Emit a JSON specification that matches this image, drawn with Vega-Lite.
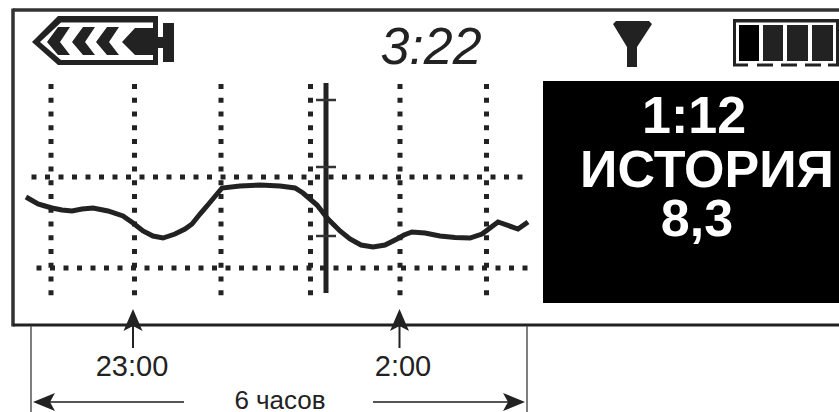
{"$schema":"https://vega.github.io/schema/vega-lite/v6.json","width":839,"height":412,"padding":0,"autosize":"none","background":"white","config":{"view":{"stroke":null},"axis":{"domain":false,"grid":false,"ticks":false,"labels":false,"title":null}},
"layer":[
{"data":{"values":[
{"x":543,"x2":839,"y":81,"y2":303,"c":"#000"},
{"x":733,"x2":839,"y":19,"y2":64,"c":"#222"},
{"x":736,"x2":836,"y":22.5,"y2":64.5,"c":"#fff"},
{"x":733,"x2":748,"y":63.5,"y2":66.5,"c":"#222"},
{"x":757,"x2":773,"y":63.5,"y2":66.5,"c":"#222"},
{"x":781,"x2":797,"y":63.5,"y2":66.5,"c":"#222"},
{"x":805,"x2":821,"y":63.5,"y2":66.5,"c":"#222"},
{"x":828,"x2":839,"y":63.5,"y2":66.5,"c":"#222"},
{"x":739,"x2":759,"y":25,"y2":61,"c":"#000"},
{"x":763,"x2":783,"y":25,"y2":61,"c":"#222"},
{"x":787,"x2":808,"y":25,"y2":61,"c":"#222"},
{"x":812,"x2":833,"y":25,"y2":61,"c":"#222"}
]},"mark":{"type":"rect"},"encoding":{"x":{"field":"x","type":"quantitative","scale":{"domain":[0,839]},"axis":null},"x2":{"field":"x2"},"y":{"field":"y","type":"quantitative","scale":{"domain":[412,0]},"axis":null},"y2":{"field":"y2"},"fill":{"field":"c","type":"nominal","scale":null}}},
{"data":{"values":[
{"x":51,"x2":51,"y":84,"y2":297},{"x":134.5,"x2":134.5,"y":84,"y2":297},{"x":221,"x2":221,"y":84,"y2":297},{"x":310.5,"x2":310.5,"y":84,"y2":297},{"x":400,"x2":400,"y":84,"y2":297},{"x":486.5,"x2":486.5,"y":84,"y2":297}
]},"mark":{"type":"rule","strokeWidth":5,"strokeDash":[5,8.75],"color":"#222"},"encoding":{"x":{"field":"x","type":"quantitative","scale":{"domain":[0,839]},"axis":null},"x2":{"field":"x2"},"y":{"field":"y","type":"quantitative","scale":{"domain":[412,0]},"axis":null},"y2":{"field":"y2"}}},
{"data":{"values":[
{"x":31.5,"x2":524,"y":177,"y2":177},{"x":36.5,"x2":529,"y":268,"y2":268}
]},"mark":{"type":"rule","strokeWidth":5,"strokeDash":[5,8.5],"color":"#222"},"encoding":{"x":{"field":"x","type":"quantitative","scale":{"domain":[0,839]},"axis":null},"x2":{"field":"x2"},"y":{"field":"y","type":"quantitative","scale":{"domain":[412,0]},"axis":null},"y2":{"field":"y2"}}},
{"data":{"values":[
{"x":13,"x2":839,"y":10,"y2":10,"w":3.5,"c":"#333"},
{"x":13,"x2":13,"y":8.5,"y2":326.5,"w":3.5,"c":"#333"},
{"x":13,"x2":839,"y":325,"y2":325,"w":3,"c":"#222"},
{"x":326,"x2":326,"y":83,"y2":293,"w":5,"c":"#222"},
{"x":316,"x2":336,"y":100,"y2":100,"w":2.5,"c":"#333"},
{"x":316,"x2":336,"y":167,"y2":167,"w":2.5,"c":"#333"},
{"x":316,"x2":336,"y":236,"y2":236,"w":2.5,"c":"#333"},
{"x":31,"x2":31,"y":326,"y2":412,"w":1.5,"c":"#555"},
{"x":527,"x2":527,"y":326,"y2":412,"w":1.5,"c":"#555"},
{"x":40,"x2":184,"y":402,"y2":402,"w":2,"c":"#555"},
{"x":373,"x2":515,"y":402,"y2":402,"w":2,"c":"#555"},
{"x":133,"x2":133,"y":326,"y2":348,"w":2,"c":"#222"},
{"x":399.5,"x2":399.5,"y":326,"y2":348,"w":2,"c":"#222"}
]},"mark":{"type":"rule"},"encoding":{"x":{"field":"x","type":"quantitative","scale":{"domain":[0,839]},"axis":null},"x2":{"field":"x2"},"y":{"field":"y","type":"quantitative","scale":{"domain":[412,0]},"axis":null},"y2":{"field":"y2"},"strokeWidth":{"field":"w","type":"quantitative","scale":null},"color":{"field":"c","type":"nominal","scale":null}}},
{"data":{"values":[
{"k":"barrel","o":1,"c":"#222","x":32,"y":42},{"k":"barrel","o":2,"c":"#222","x":58,"y":16},{"k":"barrel","o":3,"c":"#222","x":158,"y":16},{"k":"barrel","o":4,"c":"#222","x":158,"y":65},{"k":"barrel","o":5,"c":"#222","x":58,"y":65},
{"k":"inner","o":1,"c":"#fff","x":40,"y":42},{"k":"inner","o":2,"c":"#fff","x":61,"y":22.5},{"k":"inner","o":3,"c":"#fff","x":153,"y":22.5},{"k":"inner","o":4,"c":"#fff","x":153,"y":60},{"k":"inner","o":5,"c":"#fff","x":61,"y":60},
{"k":"ch1","o":1,"c":"#222","x":47,"y":42},{"k":"ch1","o":2,"c":"#222","x":58,"y":27},{"k":"ch1","o":3,"c":"#222","x":70,"y":27},{"k":"ch1","o":4,"c":"#222","x":60,"y":42},{"k":"ch1","o":5,"c":"#222","x":70,"y":55},{"k":"ch1","o":6,"c":"#222","x":58,"y":55},
{"k":"ch2","o":1,"c":"#222","x":72,"y":42},{"k":"ch2","o":2,"c":"#222","x":83,"y":27},{"k":"ch2","o":3,"c":"#222","x":95,"y":27},{"k":"ch2","o":4,"c":"#222","x":85,"y":42},{"k":"ch2","o":5,"c":"#222","x":95,"y":55},{"k":"ch2","o":6,"c":"#222","x":83,"y":55},
{"k":"ch3","o":1,"c":"#222","x":96,"y":42},{"k":"ch3","o":2,"c":"#222","x":107,"y":27},{"k":"ch3","o":3,"c":"#222","x":119,"y":27},{"k":"ch3","o":4,"c":"#222","x":109,"y":42},{"k":"ch3","o":5,"c":"#222","x":119,"y":55},{"k":"ch3","o":6,"c":"#222","x":107,"y":55},
{"k":"plunger","o":1,"c":"#222","x":122,"y":42},{"k":"plunger","o":2,"c":"#222","x":135,"y":28},{"k":"plunger","o":3,"c":"#222","x":158,"y":28},{"k":"plunger","o":4,"c":"#222","x":158,"y":55},{"k":"plunger","o":5,"c":"#222","x":135,"y":55},
{"k":"stem","o":1,"c":"#222","x":158,"y":37},{"k":"stem","o":2,"c":"#222","x":165,"y":37},{"k":"stem","o":3,"c":"#222","x":165,"y":48},{"k":"stem","o":4,"c":"#222","x":158,"y":48},
{"k":"bar","o":1,"c":"#222","x":163,"y":23},{"k":"bar","o":2,"c":"#222","x":174,"y":23},{"k":"bar","o":3,"c":"#222","x":174,"y":62},{"k":"bar","o":4,"c":"#222","x":163,"y":62},
{"k":"funnel","o":1,"c":"#222","x":613,"y":24},{"k":"funnel","o":2,"c":"#222","x":616,"y":21},{"k":"funnel","o":3,"c":"#222","x":649,"y":21},{"k":"funnel","o":4,"c":"#222","x":652,"y":24},{"k":"funnel","o":5,"c":"#222","x":637,"y":47},{"k":"funnel","o":6,"c":"#222","x":637,"y":67},{"k":"funnel","o":7,"c":"#222","x":627,"y":67},{"k":"funnel","o":8,"c":"#222","x":627,"y":47},
{"k":"up1","o":1,"c":"#222","x":133,"y":309},{"k":"up1","o":2,"c":"#222","x":142.5,"y":331},{"k":"up1","o":3,"c":"#222","x":133,"y":326},{"k":"up1","o":4,"c":"#222","x":123.5,"y":331},
{"k":"up2","o":1,"c":"#222","x":399.5,"y":309},{"k":"up2","o":2,"c":"#222","x":409,"y":331},{"k":"up2","o":3,"c":"#222","x":399.5,"y":326},{"k":"up2","o":4,"c":"#222","x":390,"y":331},
{"k":"left","o":1,"c":"#222","x":33,"y":402},{"k":"left","o":2,"c":"#222","x":55,"y":393},{"k":"left","o":3,"c":"#222","x":50,"y":402},{"k":"left","o":4,"c":"#222","x":55,"y":411},
{"k":"right","o":1,"c":"#222","x":525,"y":402},{"k":"right","o":2,"c":"#222","x":503,"y":393},{"k":"right","o":3,"c":"#222","x":508,"y":402},{"k":"right","o":4,"c":"#222","x":503,"y":411}
]},"mark":{"type":"line","strokeWidth":0,"interpolate":"linear-closed"},"encoding":{"x":{"field":"x","type":"quantitative","scale":{"domain":[0,839]},"axis":null},"y":{"field":"y","type":"quantitative","scale":{"domain":[412,0]},"axis":null},"detail":{"field":"k"},"order":{"field":"o"},"fill":{"field":"c","type":"nominal","scale":null}}},
{"data":{"values":[
{"x":26,"y":197},{"x":38,"y":204},{"x":45,"y":206},{"x":52,"y":208},{"x":62,"y":210},{"x":72,"y":211},{"x":82,"y":209},{"x":93,"y":208},{"x":108,"y":211},{"x":123,"y":216},{"x":133,"y":223},{"x":143,"y":231},{"x":153,"y":236},{"x":163,"y":238},{"x":175,"y":234},{"x":185,"y":229},{"x":192,"y":224},{"x":200,"y":214},{"x":207,"y":206},{"x":222,"y":188},{"x":240,"y":186},{"x":260,"y":185},{"x":280,"y":186},{"x":295,"y":188},{"x":303,"y":193},{"x":317,"y":205},{"x":328,"y":219},{"x":340,"y":231},{"x":350,"y":239},{"x":361,"y":245},{"x":373,"y":247},{"x":385,"y":245},{"x":397,"y":239},{"x":404,"y":235},{"x":412,"y":232},{"x":425,"y":233},{"x":440,"y":236},{"x":455,"y":237.5},{"x":470,"y":238},{"x":482,"y":234},{"x":498,"y":222},{"x":518,"y":229},{"x":528,"y":222}
]},"mark":{"type":"line","strokeWidth":5,"color":"#222","interpolate":"linear"},"encoding":{"x":{"field":"x","type":"quantitative","scale":{"domain":[0,839]},"axis":null},"y":{"field":"y","type":"quantitative","scale":{"domain":[412,0]},"axis":null}}},
{"data":{"values":[
{"x":694,"y":133,"t":"1:12"},{"x":707,"y":187,"t":"ИСТОРИЯ"},{"x":697,"y":236,"t":"8,3"}
]},"mark":{"type":"text","font":"Liberation Sans","fontWeight":"bold","fontSize":52,"align":"center","baseline":"alphabetic","color":"#fff"},"encoding":{"x":{"field":"x","type":"quantitative","scale":{"domain":[0,839]},"axis":null},"y":{"field":"y","type":"quantitative","scale":{"domain":[412,0]},"axis":null},"text":{"field":"t"}}},
{"data":{"values":[
{"x":132,"y":376,"t":"23:00","s":29},{"x":403,"y":376,"t":"2:00","s":29},{"x":280,"y":409,"t":"6 часов","s":26}
]},"mark":{"type":"text","font":"Liberation Sans","align":"center","baseline":"alphabetic","color":"#222"},"encoding":{"x":{"field":"x","type":"quantitative","scale":{"domain":[0,839]},"axis":null},"y":{"field":"y","type":"quantitative","scale":{"domain":[412,0]},"axis":null},"text":{"field":"t"},"size":{"field":"s","type":"quantitative","scale":null}}},
{"data":{"values":[{"x":431,"y":64,"t":"3:22"}]},"mark":{"type":"text","font":"Liberation Sans","fontStyle":"italic","fontSize":52,"align":"center","baseline":"alphabetic","color":"#222"},"encoding":{"x":{"field":"x","type":"quantitative","scale":{"domain":[0,839]},"axis":null},"y":{"field":"y","type":"quantitative","scale":{"domain":[412,0]},"axis":null},"text":{"field":"t"}}}
]}
